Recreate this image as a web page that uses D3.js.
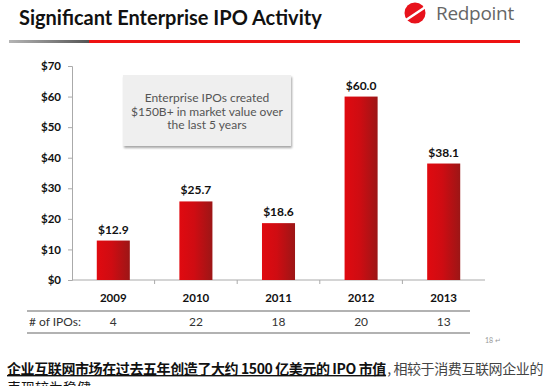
<!DOCTYPE html>
<html>
<head>
<meta charset="utf-8">
<script src="https://cdn.jsdelivr.net/npm/d3@7"></script>
<style>
  html, body { margin: 0; padding: 0; background: #fff; }
  svg { display: block; }
</style>
</head>
<body>
<svg id="chart" width="550" height="386"></svg>
<script>
// data
const years = ['2009', '2010', '2011', '2012', '2013'];
const ipoValue = [12.9, 25.7, 18.6, 60.0, 38.1];   // $B market value
const ipoCount = ['4', '22', '18', '20', '13'];
const yTicks = [0, 10, 20, 30, 40, 50, 60, 70];

const svg = d3.select('#chart');
const font = 'Lato, "Open Sans", sans-serif';

const margin = { left: 72, right: 65, top: 66, bottom: 106 };
const W = 550, H = 386;

const x = d3.scaleBand()
  .domain(years)
  .range([margin.left, W - margin.right])
  .paddingInner(0.6)
  .paddingOuter(0.3);

const y = d3.scaleLinear()
  .domain([0, 70])
  .range([H - margin.bottom, margin.top]);

const defs = svg.append('defs');

const barGrad = defs.append('linearGradient').attr('id', 'barGrad');
barGrad.append('stop').attr('offset', '0%').attr('stop-color', '#e00a10');
barGrad.append('stop').attr('offset', '45%').attr('stop-color', '#cf0c12');
barGrad.append('stop').attr('offset', '100%').attr('stop-color', '#9c1616');

const greyGrad = defs.append('linearGradient').attr('id', 'greyGrad');
greyGrad.append('stop').attr('offset', '0%').attr('stop-color', '#b5b5b5');
greyGrad.append('stop').attr('offset', '100%').attr('stop-color', '#555');

const shadow = defs.append('filter').attr('id', 'shadow')
  .attr('x', '-10%').attr('y', '-10%').attr('width', '130%').attr('height', '140%');
shadow.append('feDropShadow')
  .attr('dx', 1).attr('dy', 2).attr('stdDeviation', 1.2)
  .attr('flood-color', '#000').attr('flood-opacity', 0.35);

// header
svg.append('text')
  .attr('x', 19).attr('y', 25)
  .attr('font-family', font).attr('font-weight', 700)
  .attr('font-size', 20).attr('fill', '#111')
  .text('Significant Enterprise IPO Activity');

svg.append('rect').attr('x', 9).attr('y', 40).attr('width', 80).attr('height', 3)
  .attr('fill', 'url(#greyGrad)');
svg.append('rect').attr('x', 89).attr('y', 40).attr('width', 431).attr('height', 3)
  .attr('fill', '#ee1111');

// logo
const logo = svg.append('g').attr('transform', 'translate(415,13)');
logo.append('circle').attr('r', 10.5).attr('fill', '#e8121b');
logo.append('path')
  .attr('d', 'M-9,7 L9,-5')
  .attr('stroke', '#fff').attr('stroke-width', 2.6).attr('stroke-linecap', 'round');
svg.append('text')
  .attr('x', 436).attr('y', 20)
  .attr('font-family', '"Open Sans", sans-serif')
  .attr('font-size', 19).attr('fill', '#666')
  .attr('letter-spacing', -0.3)
  .text('Redpoint');

// y axis
const yAxis = svg.append('g')
  .attr('transform', `translate(${margin.left},0)`)
  .call(d3.axisLeft(y).tickValues(yTicks).tickSize(4).tickPadding(7)
    .tickFormat(d => '$' + d));
yAxis.select('.domain').attr('stroke', '#aaa');
yAxis.selectAll('.tick line').attr('stroke', '#aaa');
yAxis.selectAll('text')
  .attr('font-family', font).attr('font-weight', 700)
  .attr('font-size', 11.5).attr('fill', '#111');

// x baseline with separators between categories
const base = svg.append('g');
base.append('line')
  .attr('x1', margin.left).attr('x2', W - margin.right)
  .attr('y1', y(0)).attr('y2', y(0))
  .attr('stroke', '#aaa');
base.selectAll('.sep')
  .data(years.slice(1))
  .join('line')
  .attr('x1', d => x(d) - x.step() * x.paddingInner() / 2)
  .attr('x2', d => x(d) - x.step() * x.paddingInner() / 2)
  .attr('y1', y(0)).attr('y2', y(0) + 4)
  .attr('stroke', '#aaa');

// bars
svg.selectAll('.bar')
  .data(ipoValue)
  .join('rect')
  .attr('x', (d, i) => x(years[i]))
  .attr('y', d => y(d))
  .attr('width', x.bandwidth())
  .attr('height', d => y(0) - y(d))
  .attr('fill', 'url(#barGrad)');

svg.selectAll('.val')
  .data(ipoValue)
  .join('text')
  .attr('x', (d, i) => x(years[i]) + x.bandwidth() / 2)
  .attr('y', d => y(d) - 7)
  .attr('text-anchor', 'middle')
  .attr('font-family', font).attr('font-weight', 700)
  .attr('font-size', 12).attr('fill', '#111')
  .text(d => '$' + d.toFixed(1));

// year labels
svg.selectAll('.yr')
  .data(years)
  .join('text')
  .attr('x', d => x(d) + x.bandwidth() / 2)
  .attr('y', 302)
  .attr('text-anchor', 'middle')
  .attr('font-family', font).attr('font-weight', 700)
  .attr('font-size', 11.5).attr('fill', '#111')
  .text(d => d);

// IPO count row
svg.append('line').attr('x1', 27).attr('x2', 470).attr('y1', 311).attr('y2', 311)
  .attr('stroke', '#666').attr('stroke-width', 1.2);
svg.append('line').attr('x1', 27).attr('x2', 470).attr('y1', 333).attr('y2', 333)
  .attr('stroke', '#666').attr('stroke-width', 1.2);
svg.append('text')
  .attr('x', 29).attr('y', 326)
  .attr('font-family', font).attr('font-size', 12).attr('fill', '#333')
  .text('# of IPOs:');
svg.selectAll('.cnt')
  .data(ipoCount)
  .join('text')
  .attr('x', (d, i) => x(years[i]) + x.bandwidth() / 2)
  .attr('y', 326)
  .attr('text-anchor', 'middle')
  .attr('font-family', font).attr('font-size', 12).attr('fill', '#333')
  .text(d => d);

// callout box
svg.append('rect')
  .attr('x', 123).attr('y', 75).attr('width', 168).attr('height', 71)
  .attr('fill', '#efefef').attr('filter', 'url(#shadow)');
const note = ['Enterprise IPOs created', '$150B+ in market value over', 'the last 5 years'];
svg.selectAll('.note')
  .data(note)
  .join('text')
  .attr('x', 207)
  .attr('y', (d, i) => 102 + i * 13.5)
  .attr('text-anchor', 'middle')
  .attr('font-family', font).attr('font-size', 12).attr('fill', '#555')
  .text(d => d);

// page number
svg.append('text')
  .attr('x', 485).attr('y', 343)
  .attr('font-family', font).attr('font-size', 7).attr('fill', '#999')
  .text('18 ↵');

// caption below the slide
const capFont = '"Noto Sans CJK SC", sans-serif';
svg.append('text')
  .attr('x', 7).attr('y', 374)
  .attr('font-family', capFont).attr('font-weight', 700)
  .attr('font-size', 14).attr('fill', '#111')
  .attr('letter-spacing', -0.4)
  .attr('text-decoration', 'underline')
  .text('企业互联网市场在过去五年创造了大约 1500 亿美元的 IPO 市值');
svg.append('text')
  .attr('x', 543).attr('y', 374)
  .attr('text-anchor', 'end')
  .attr('font-family', capFont)
  .attr('font-size', 14).attr('fill', '#444')
  .attr('letter-spacing', -0.4)
  .text(', 相较于消费互联网企业的');
svg.append('text')
  .attr('x', 7).attr('y', 393)
  .attr('font-family', capFont)
  .attr('font-size', 14).attr('fill', '#111')
  .text('表现较为稳健。');
</script>
</body>
</html>
